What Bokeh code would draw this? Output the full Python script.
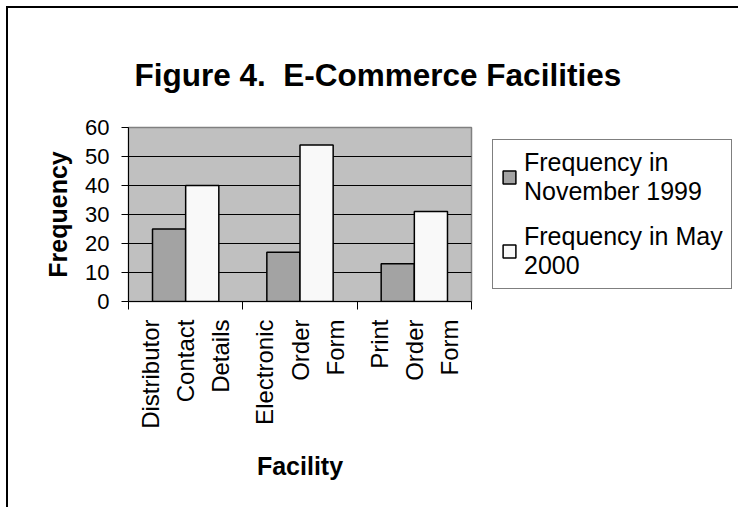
from math import pi
from bokeh.plotting import figure
from bokeh.models import (Range1d, LinearAxis, FixedTicker, Title,
                          Legend, LegendItem, ColumnDataSource)
from bokeh.transform import dodge
from bokeh.embed import file_html
from bokeh.resources import INLINE

# ---- data ----
facilities = ["Distributor\nContact\nDetails", "Electronic\nOrder\nForm", "Print\nOrder\nForm"]
nov_1999 = [25, 17, 13]
may_2000 = [40, 54, 31]
series_labels = ["Frequency in\nNovember 1999", "Frequency in May\n2000"]
y_ticks = [0, 10, 20, 30, 40, 50, 60]
title_text = "Figure 4.\u00a0 E-Commerce Facilities"
x_title = "Facility"
y_title = "Frequency"

FONT = "Liberation Sans"

# category slots on a numeric axis: slot i spans [i, i+1]
slot_centers = [i + 0.5 for i in range(len(facilities))]
slot_edges = list(range(len(facilities) + 1))

source = ColumnDataSource(dict(center=slot_centers, facility=facilities, nov=nov_1999, may=may_2000))

p = figure(frame_width=343, frame_height=174, x_range=Range1d(slot_edges[0], slot_edges[-1]),
           y_range=Range1d(y_ticks[0], y_ticks[-1]), x_axis_location=None,
           output_backend="svg", toolbar_location=None,
           min_border_left=120, min_border_top=119, min_border_bottom=206, min_border_right=0)

p.styles = {"border-top": "2px solid black", "border-left": "2px solid black",
            "margin-top": "6px", "margin-left": "6px"}

p.background_fill_color = "#c0c0c0"
p.border_fill_color = "white"
p.outline_line_color = "#808080"
p.outline_line_width = 1.5

# title
p.title = Title(text=title_text, text_font=FONT, text_font_size="31.5px", text_font_style="bold",
                text_color="black", align="left", vertical_align="top", offset=6, standoff=66)

# bars
r1 = p.vbar(x=dodge("center", -0.145), top="nov", width=0.29, source=source,
            fill_color="#a3a3a3", line_color="black", line_width=1.5)
r2 = p.vbar(x=dodge("center", 0.145), top="may", width=0.29, source=source,
            fill_color="#f9f9f9", line_color="black", line_width=1.5)

# y axis
ya = p.yaxis[0]
ya.ticker = FixedTicker(ticks=y_ticks)
ya.major_tick_out = 7
ya.major_tick_in = 0
ya.minor_tick_out = 0
ya.minor_tick_in = 0
ya.axis_line_color = "black"
ya.major_tick_line_color = "black"
ya.major_label_text_font = FONT
ya.major_label_text_font_size = "22px"
ya.major_label_text_color = "black"
ya.major_label_standoff = 12
ya.axis_label = y_title
ya.axis_label_text_font = FONT
ya.axis_label_text_font_size = "25px"
ya.axis_label_text_font_style = "bold"
ya.axis_label_text_color = "black"
ya.axis_label_standoff = 10

p.ygrid.ticker = FixedTicker(ticks=y_ticks[1:-1])
p.ygrid.grid_line_color = "black"
p.ygrid.grid_line_width = 1
p.xgrid.visible = False

# x axis: labels at slot centers, tick marks (minor) at slot edges
x_axis = LinearAxis(ticker=FixedTicker(ticks=slot_centers, minor_ticks=slot_edges),
                    major_label_overrides={c: f for c, f in zip(slot_centers, facilities)},
                    major_tick_out=0, major_tick_in=0, major_tick_line_color=None,
                    minor_tick_out=8, minor_tick_in=0, minor_tick_line_color="black",
                    axis_line_color="black",
                    major_label_orientation=pi / 2,
                    major_label_text_font=FONT, major_label_text_font_size="24px",
                    major_label_text_color="black", major_label_text_line_height=1.3,
                    major_label_standoff=10,
                    axis_label=x_title, axis_label_text_font=FONT,
                    axis_label_text_font_size="25px", axis_label_text_font_style="bold",
                    axis_label_text_color="black", axis_label_standoff=20)
p.add_layout(x_axis, "below")

# legend
legend = Legend(items=[LegendItem(label=series_labels[0], renderers=[r1]),
                       LegendItem(label=series_labels[1], renderers=[r2])],
                location="center_left", margin=21, padding=8, spacing=16,
                glyph_width=16, glyph_height=16, label_standoff=7,
                label_text_font=FONT, label_text_font_size="25px", label_text_color="black",
                label_text_line_height=1.3,
                border_line_color="black", border_line_width=1,
                background_fill_color="white", background_fill_alpha=1)
p.add_layout(legend, "right")

open("out.html", "w").write(file_html(p, INLINE))
